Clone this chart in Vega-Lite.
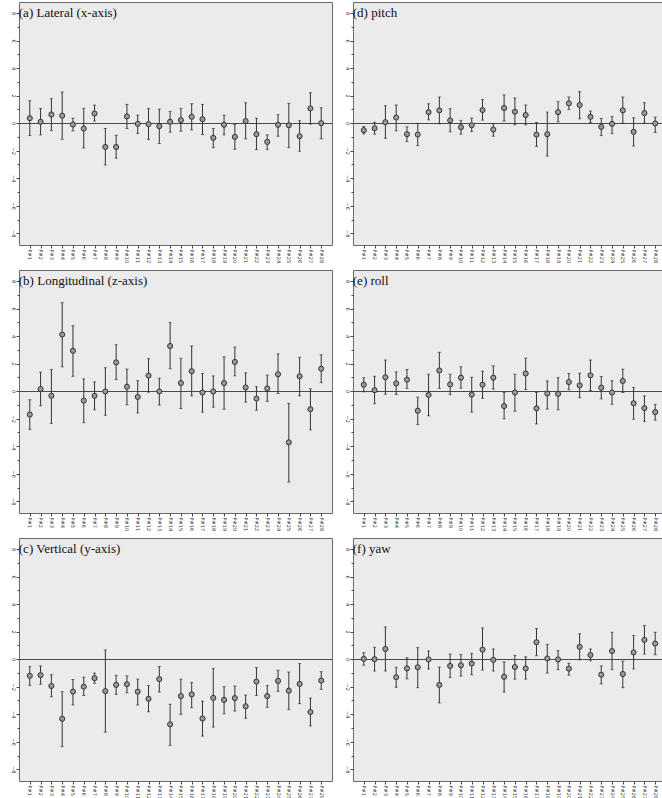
{
  "$schema": "https://vega.github.io/schema/vega-lite/v6.json",
  "padding": {"left": 9, "top": 1, "right": 3, "bottom": 0},
  "background": "white",
  "datasets": {
    "titles": [
      {"g": "a", "t": "(a) Lateral (x-axis)"},
      {"g": "b", "t": "(b) Longitudinal (z-axis)"},
      {"g": "c", "t": "(c) Vertical (y-axis)"},
      {"g": "d", "t": "(d) pitch"},
      {"g": "e", "t": "(e) roll"},
      {"g": "f", "t": "(f) yaw"}
    ],
    "pts": [
      {"g":"a","p":"P#1","m":0.36,"hi":1.63,"lo":-0.9},
      {"g":"a","p":"P#2","m":0.1,"hi":1.07,"lo":-0.85},
      {"g":"a","p":"P#3","m":0.63,"hi":1.78,"lo":-0.54},
      {"g":"a","p":"P#4","m":0.54,"hi":2.26,"lo":-1.17},
      {"g":"a","p":"P#5","m":-0.1,"hi":0.36,"lo":-0.56},
      {"g":"a","p":"P#6","m":-0.39,"hi":1.07,"lo":-1.8},
      {"g":"a","p":"P#7","m":0.7,"hi":1.31,"lo":0.15},
      {"g":"a","p":"P#8","m":-1.73,"hi":-0.39,"lo":-3.04},
      {"g":"a","p":"P#9","m":-1.73,"hi":-0.88,"lo":-2.55},
      {"g":"a","p":"P#10","m":0.49,"hi":1.36,"lo":-0.39},
      {"g":"a","p":"P#11","m":-0.05,"hi":0.58,"lo":-0.75},
      {"g":"a","p":"P#12","m":-0.07,"hi":1.07,"lo":-1.19},
      {"g":"a","p":"P#13","m":-0.22,"hi":1.02,"lo":-1.48},
      {"g":"a","p":"P#14","m":0.1,"hi":0.85,"lo":-0.66},
      {"g":"a","p":"P#15","m":0.22,"hi":1.07,"lo":-0.58},
      {"g":"a","p":"P#16","m":0.46,"hi":1.41,"lo":-0.49},
      {"g":"a","p":"P#17","m":0.29,"hi":1.36,"lo":-0.83},
      {"g":"a","p":"P#18","m":-1.07,"hi":-0.39,"lo":-1.78},
      {"g":"a","p":"P#19","m":-0.12,"hi":0.58,"lo":-0.85},
      {"g":"a","p":"P#20","m":-1.0,"hi":-0.1,"lo":-1.9},
      {"g":"a","p":"P#21","m":0.15,"hi":1.48,"lo":-1.14},
      {"g":"a","p":"P#22","m":-0.8,"hi":0.36,"lo":-1.92},
      {"g":"a","p":"P#23","m":-1.36,"hi":-0.85,"lo":-1.92},
      {"g":"a","p":"P#24","m":-0.12,"hi":0.61,"lo":-0.95},
      {"g":"a","p":"P#25","m":-0.15,"hi":1.44,"lo":-1.78},
      {"g":"a","p":"P#26","m":-0.95,"hi":0.17,"lo":-2.04},
      {"g":"a","p":"P#27","m":1.07,"hi":2.21,"lo":-0.07},
      {"g":"a","p":"P#28","m":0.0,"hi":1.12,"lo":-1.14},

      {"g":"d","p":"P#1","m":-0.51,"hi":-0.24,"lo":-0.78},
      {"g":"d","p":"P#2","m":-0.37,"hi":0.07,"lo":-0.8},
      {"g":"d","p":"P#3","m":0.07,"hi":1.27,"lo":-1.1},
      {"g":"d","p":"P#4","m":0.41,"hi":1.32,"lo":-0.56},
      {"g":"d","p":"P#5","m":-0.8,"hi":-0.27,"lo":-1.34},
      {"g":"d","p":"P#6","m":-0.83,"hi":-0.02,"lo":-1.63},
      {"g":"d","p":"P#7","m":0.8,"hi":1.41,"lo":0.24},
      {"g":"d","p":"P#8","m":0.93,"hi":1.9,"lo":-0.05},
      {"g":"d","p":"P#9","m":0.2,"hi":1.05,"lo":-0.63},
      {"g":"d","p":"P#10","m":-0.29,"hi":0.2,"lo":-0.8},
      {"g":"d","p":"P#11","m":-0.15,"hi":0.37,"lo":-0.61},
      {"g":"d","p":"P#12","m":0.95,"hi":1.71,"lo":0.22},
      {"g":"d","p":"P#13","m":-0.46,"hi":-0.05,"lo":-0.95},
      {"g":"d","p":"P#14","m":1.1,"hi":2.05,"lo":0.15},
      {"g":"d","p":"P#15","m":0.83,"hi":1.83,"lo":-0.12},
      {"g":"d","p":"P#16","m":0.59,"hi":1.32,"lo":-0.12},
      {"g":"d","p":"P#17","m":-0.83,"hi":0.05,"lo":-1.68},
      {"g":"d","p":"P#18","m":-0.8,"hi":0.8,"lo":-2.39},
      {"g":"d","p":"P#19","m":0.8,"hi":1.56,"lo":0.1},
      {"g":"d","p":"P#20","m":1.44,"hi":1.9,"lo":0.98},
      {"g":"d","p":"P#21","m":1.32,"hi":2.29,"lo":0.32},
      {"g":"d","p":"P#22","m":0.46,"hi":0.88,"lo":0.05},
      {"g":"d","p":"P#23","m":-0.27,"hi":0.34,"lo":-0.9},
      {"g":"d","p":"P#24","m":-0.05,"hi":0.49,"lo":-0.76},
      {"g":"d","p":"P#25","m":0.93,"hi":1.9,"lo":0.0},
      {"g":"d","p":"P#26","m":-0.63,"hi":0.39,"lo":-1.66},
      {"g":"d","p":"P#27","m":0.73,"hi":1.49,"lo":0.0},
      {"g":"d","p":"P#28","m":-0.02,"hi":0.44,"lo":-0.68},

      {"g":"b","p":"P#1","m":-1.7,"hi":-0.62,"lo":-2.78},
      {"g":"b","p":"P#2","m":0.15,"hi":1.38,"lo":-1.06},
      {"g":"b","p":"P#3","m":-0.34,"hi":1.58,"lo":-2.34},
      {"g":"b","p":"P#4","m":4.11,"hi":6.43,"lo":1.77},
      {"g":"b","p":"P#5","m":2.93,"hi":4.75,"lo":1.08},
      {"g":"b","p":"P#6","m":-0.69,"hi":0.89,"lo":-2.29},
      {"g":"b","p":"P#7","m":-0.34,"hi":0.67,"lo":-1.35},
      {"g":"b","p":"P#8","m":-0.02,"hi":1.7,"lo":-1.75},
      {"g":"b","p":"P#9","m":2.09,"hi":3.37,"lo":0.84},
      {"g":"b","p":"P#10","m":0.32,"hi":1.6,"lo":-0.99},
      {"g":"b","p":"P#11","m":-0.42,"hi":0.76,"lo":-1.58},
      {"g":"b","p":"P#12","m":1.13,"hi":2.36,"lo":-0.07},
      {"g":"b","p":"P#13","m":-0.02,"hi":0.94,"lo":-1.01},
      {"g":"b","p":"P#14","m":3.28,"hi":4.98,"lo":1.63},
      {"g":"b","p":"P#15","m":0.59,"hi":2.39,"lo":-1.26},
      {"g":"b","p":"P#16","m":1.45,"hi":3.28,"lo":-0.34},
      {"g":"b","p":"P#17","m":-0.1,"hi":1.28,"lo":-1.53},
      {"g":"b","p":"P#18","m":-0.02,"hi":1.11,"lo":-1.16},
      {"g":"b","p":"P#19","m":0.59,"hi":2.49,"lo":-1.31},
      {"g":"b","p":"P#20","m":2.12,"hi":3.2,"lo":1.11},
      {"g":"b","p":"P#21","m":0.27,"hi":1.33,"lo":-0.79},
      {"g":"b","p":"P#22","m":-0.54,"hi":0.32,"lo":-1.38},
      {"g":"b","p":"P#23","m":0.2,"hi":1.16,"lo":-0.74},
      {"g":"b","p":"P#24","m":1.23,"hi":2.71,"lo":-0.17},
      {"g":"b","p":"P#25","m":-3.72,"hi":-0.89,"lo":-6.6},
      {"g":"b","p":"P#26","m":1.08,"hi":2.46,"lo":-0.34},
      {"g":"b","p":"P#27","m":-1.31,"hi":0.17,"lo":-2.81},
      {"g":"b","p":"P#28","m":1.63,"hi":2.64,"lo":0.62},

      {"g":"e","p":"P#1","m":0.47,"hi":0.98,"lo":-0.05},
      {"g":"e","p":"P#2","m":0.07,"hi":1.08,"lo":-0.91},
      {"g":"e","p":"P#3","m":1.01,"hi":2.26,"lo":-0.22},
      {"g":"e","p":"P#4","m":0.56,"hi":1.4,"lo":-0.25},
      {"g":"e","p":"P#5","m":0.83,"hi":1.57,"lo":0.2},
      {"g":"e","p":"P#6","m":-1.42,"hi":-0.44,"lo":-2.43},
      {"g":"e","p":"P#7","m":-0.27,"hi":1.23,"lo":-1.79},
      {"g":"e","p":"P#8","m":1.5,"hi":2.82,"lo":0.2},
      {"g":"e","p":"P#9","m":0.49,"hi":1.23,"lo":-0.25},
      {"g":"e","p":"P#10","m":0.98,"hi":1.77,"lo":0.22},
      {"g":"e","p":"P#11","m":-0.25,"hi":1.01,"lo":-1.52},
      {"g":"e","p":"P#12","m":0.47,"hi":1.45,"lo":-0.52},
      {"g":"e","p":"P#13","m":0.98,"hi":1.84,"lo":0.15},
      {"g":"e","p":"P#14","m":-1.08,"hi":-0.1,"lo":-2.01},
      {"g":"e","p":"P#15","m":-0.1,"hi":1.23,"lo":-1.45},
      {"g":"e","p":"P#16","m":1.28,"hi":2.4,"lo":0.12},
      {"g":"e","p":"P#17","m":-1.25,"hi":-0.1,"lo":-2.38},
      {"g":"e","p":"P#18","m":-0.17,"hi":0.74,"lo":-1.3},
      {"g":"e","p":"P#19","m":-0.2,"hi":0.98,"lo":-1.35},
      {"g":"e","p":"P#20","m":0.66,"hi":1.28,"lo":0.1},
      {"g":"e","p":"P#21","m":0.42,"hi":1.3,"lo":-0.47},
      {"g":"e","p":"P#22","m":1.15,"hi":2.26,"lo":0.05},
      {"g":"e","p":"P#23","m":0.25,"hi":1.06,"lo":-0.56},
      {"g":"e","p":"P#24","m":-0.1,"hi":0.76,"lo":-0.96},
      {"g":"e","p":"P#25","m":0.74,"hi":1.6,"lo":-0.1},
      {"g":"e","p":"P#26","m":-0.88,"hi":0.27,"lo":-2.04},
      {"g":"e","p":"P#27","m":-1.23,"hi":-0.34,"lo":-2.21},
      {"g":"e","p":"P#28","m":-1.52,"hi":-0.96,"lo":-2.11},

      {"g":"c","p":"P#1","m":-1.21,"hi":-0.54,"lo":-1.9},
      {"g":"c","p":"P#2","m":-1.16,"hi":-0.49,"lo":-1.82},
      {"g":"c","p":"P#3","m":-1.95,"hi":-1.13,"lo":-2.73},
      {"g":"c","p":"P#4","m":-4.33,"hi":-2.36,"lo":-6.35},
      {"g":"c","p":"P#5","m":-2.36,"hi":-1.48,"lo":-3.33},
      {"g":"c","p":"P#6","m":-2.0,"hi":-1.31,"lo":-2.64},
      {"g":"c","p":"P#7","m":-1.38,"hi":-1.01,"lo":-1.75},
      {"g":"c","p":"P#8","m":-2.32,"hi":0.67,"lo":-5.3},
      {"g":"c","p":"P#9","m":-1.87,"hi":-1.18,"lo":-2.56},
      {"g":"c","p":"P#10","m":-1.82,"hi":-1.21,"lo":-2.44},
      {"g":"c","p":"P#11","m":-2.36,"hi":-1.45,"lo":-3.33},
      {"g":"c","p":"P#12","m":-2.88,"hi":-1.92,"lo":-3.82},
      {"g":"c","p":"P#13","m":-1.45,"hi":-0.54,"lo":-2.39},
      {"g":"c","p":"P#14","m":-4.73,"hi":-3.28,"lo":-6.26},
      {"g":"c","p":"P#15","m":-2.68,"hi":-1.45,"lo":-4.01},
      {"g":"c","p":"P#16","m":-2.56,"hi":-1.7,"lo":-3.52},
      {"g":"c","p":"P#17","m":-4.31,"hi":-3.05,"lo":-5.59},
      {"g":"c","p":"P#18","m":-2.81,"hi":-0.67,"lo":-4.93},
      {"g":"c","p":"P#19","m":-2.96,"hi":-2.0,"lo":-3.97},
      {"g":"c","p":"P#20","m":-2.83,"hi":-1.95,"lo":-3.77},
      {"g":"c","p":"P#21","m":-3.42,"hi":-2.61,"lo":-4.29},
      {"g":"c","p":"P#22","m":-1.63,"hi":-0.62,"lo":-2.64},
      {"g":"c","p":"P#23","m":-2.68,"hi":-1.92,"lo":-3.5},
      {"g":"c","p":"P#24","m":-1.58,"hi":-0.81,"lo":-2.34},
      {"g":"c","p":"P#25","m":-2.29,"hi":-0.94,"lo":-3.67},
      {"g":"c","p":"P#26","m":-1.8,"hi":-0.32,"lo":-3.23},
      {"g":"c","p":"P#27","m":-3.84,"hi":-2.83,"lo":-4.85},
      {"g":"c","p":"P#28","m":-1.55,"hi":-0.91,"lo":-2.19},

      {"g":"f","p":"P#1","m":0.02,"hi":0.47,"lo":-0.44},
      {"g":"f","p":"P#2","m":0.0,"hi":0.86,"lo":-0.86},
      {"g":"f","p":"P#3","m":0.74,"hi":2.34,"lo":-0.86},
      {"g":"f","p":"P#4","m":-1.31,"hi":-0.59,"lo":-2.04},
      {"g":"f","p":"P#5","m":-0.67,"hi":0.1,"lo":-1.43},
      {"g":"f","p":"P#6","m":-0.59,"hi":0.84,"lo":-2.07},
      {"g":"f","p":"P#7","m":-0.02,"hi":0.59,"lo":-0.71},
      {"g":"f","p":"P#8","m":-1.87,"hi":-0.57,"lo":-3.18},
      {"g":"f","p":"P#9","m":-0.49,"hi":0.37,"lo":-1.33},
      {"g":"f","p":"P#10","m":-0.44,"hi":0.34,"lo":-1.23},
      {"g":"f","p":"P#11","m":-0.32,"hi":0.42,"lo":-1.13},
      {"g":"f","p":"P#12","m":0.69,"hi":2.27,"lo":-0.79},
      {"g":"f","p":"P#13","m":-0.05,"hi":0.74,"lo":-0.86},
      {"g":"f","p":"P#14","m":-1.28,"hi":-0.2,"lo":-2.39},
      {"g":"f","p":"P#15","m":-0.57,"hi":0.27,"lo":-1.45},
      {"g":"f","p":"P#16","m":-0.67,"hi":0.17,"lo":-1.45},
      {"g":"f","p":"P#17","m":1.23,"hi":2.22,"lo":0.25},
      {"g":"f","p":"P#18","m":0.05,"hi":1.08,"lo":-1.01},
      {"g":"f","p":"P#19","m":-0.02,"hi":0.62,"lo":-0.76},
      {"g":"f","p":"P#20","m":-0.69,"hi":-0.3,"lo":-1.16},
      {"g":"f","p":"P#21","m":0.89,"hi":1.85,"lo":-0.05},
      {"g":"f","p":"P#22","m":0.3,"hi":0.74,"lo":-0.12},
      {"g":"f","p":"P#23","m":-1.13,"hi":-0.49,"lo":-1.8},
      {"g":"f","p":"P#24","m":0.59,"hi":1.95,"lo":-0.76},
      {"g":"f","p":"P#25","m":-1.08,"hi":-0.15,"lo":-2.07},
      {"g":"f","p":"P#26","m":0.49,"hi":1.72,"lo":-0.71},
      {"g":"f","p":"P#27","m":1.4,"hi":2.44,"lo":0.37},
      {"g":"f","p":"P#28","m":1.13,"hi":1.95,"lo":0.32}
    ]
  },
  "data": {"name": "pts"},
  "transform": [
    {"lookup": "g", "from": {"data": {"name": "titles"}, "key": "g", "fields": ["t"]}}
  ],
  "facet": {"field": "g", "type": "nominal", "title": null, "sort": ["a", "d", "b", "e", "c", "f"], "header": {"labels": false, "title": null, "labelFontSize": 0, "labelPadding": 0}},
  "columns": 2,
  "bounds": "flush",
  "spacing": {"column": 21, "row": 25},
  "resolve": {"axis": {"x": "independent", "y": "independent"}},
  "config": {
    "view": {"fill": "#ebebeb", "stroke": "#6a6a6a", "strokeWidth": 1},
    "header": {"labels": false, "title": null},
    "headerFacet": {"labels": false, "title": null},
    "axis": {
      "domain": false,
      "grid": false,
      "labelFont": "DejaVu Sans",
      "labelFontSize": 5,
      "labelColor": "#333",
      "tickColor": "#444"
    },
    "axisY": {
      "labelOverlap": false,
      "labelAngle": 90,
      "labelAlign": "center",
      "labelBaseline": "top",
      "labelPadding": 1
    }
  },
  "spec": {
    "width": 313,
    "height": 243,
    "encoding": {
      "x": {
        "field": "p", "type": "ordinal", "title": null,
        "sort": ["P#1","P#2","P#3","P#4","P#5","P#6","P#7","P#8","P#9","P#10","P#11","P#12","P#13","P#14","P#15","P#16","P#17","P#18","P#19","P#20","P#21","P#22","P#23","P#24","P#25","P#26","P#27","P#28"],
        "scale": {"type": "point", "padding": 2},
        "axis": {"labelAngle": 90, "labelAlign": "left", "labelBaseline": "middle", "tickSize": 3, "labelPadding": 1, "title": null}
      }
    },
    "layer": [
      {
        "mark": {"type": "errorbar", "ticks": {"color": "#333", "size": 3, "thickness": 1}, "rule": {"color": "#333", "strokeWidth": 1}},
        "encoding": {
          "y": {
            "field": "lo", "type": "quantitative", "title": null,
            "scale": {"domain": [-8.85, 8.8], "nice": false, "zero": false},
            "axis": {
              "title": null,
              "values": [-8,-7,-6,-5,-4,-3,-2,-1,0,1,2,3,4,5,6,7,8],
              "labelExpr": "datum.value % 2 === 0 ? datum.label : ''",
              "labelOverlap": false,
              "tickSize": {"condition": {"test": "datum.value % 2 === 0", "value": 3}, "value": 2},
              "grid": true,
              "gridColor": "#4a4a4a",
              "gridWidth": 1.2,
              "gridOpacity": {"condition": {"test": "datum.value === 0", "value": 1}, "value": 0},
              "labelAngle": 90,
              "labelAlign": "center",
              "labelBaseline": "top",
              "labelPadding": 1
            }
          },
          "y2": {"field": "hi"}
        }
      },
      {
        "mark": {"type": "point", "shape": "circle", "filled": false, "fill": "#9a9a9a", "fillOpacity": 1, "stroke": "#333", "strokeWidth": 1, "size": 26},
        "encoding": {"y": {"field": "m", "type": "quantitative", "title": null, "scale": {"domain": [-8.85, 8.8], "nice": false, "zero": false},
            "axis": {
              "title": null,
              "values": [-8,-7,-6,-5,-4,-3,-2,-1,0,1,2,3,4,5,6,7,8],
              "labelExpr": "datum.value % 2 === 0 ? datum.label : ''",
              "labelOverlap": false,
              "tickSize": {"condition": {"test": "datum.value % 2 === 0", "value": 3}, "value": 2},
              "grid": true,
              "gridColor": "#4a4a4a",
              "gridWidth": 1.2,
              "gridOpacity": {"condition": {"test": "datum.value === 0", "value": 1}, "value": 0},
              "labelAngle": 90,
              "labelAlign": "center",
              "labelBaseline": "top",
              "labelPadding": 1
            }}}
      },
      {
        "transform": [{"filter": "datum.p === 'P#1'"}],
        "mark": {"type": "text", "font": "Liberation Serif", "fontSize": 13, "align": "left", "baseline": "middle", "dx": -11, "color": "#111"},
        "encoding": {
          "y": {"datum": 8, "type": "quantitative", "title": null, "scale": {"domain": [-8.85, 8.8], "nice": false, "zero": false},
            "axis": {
              "title": null,
              "values": [-8,-7,-6,-5,-4,-3,-2,-1,0,1,2,3,4,5,6,7,8],
              "labelExpr": "datum.value % 2 === 0 ? datum.label : ''",
              "labelOverlap": false,
              "tickSize": {"condition": {"test": "datum.value % 2 === 0", "value": 3}, "value": 2},
              "grid": true,
              "gridColor": "#4a4a4a",
              "gridWidth": 1.2,
              "gridOpacity": {"condition": {"test": "datum.value === 0", "value": 1}, "value": 0},
              "labelAngle": 90,
              "labelAlign": "center",
              "labelBaseline": "top",
              "labelPadding": 1
            }},
          "text": {"field": "t"}
        }
      }
    ]
  }
}
